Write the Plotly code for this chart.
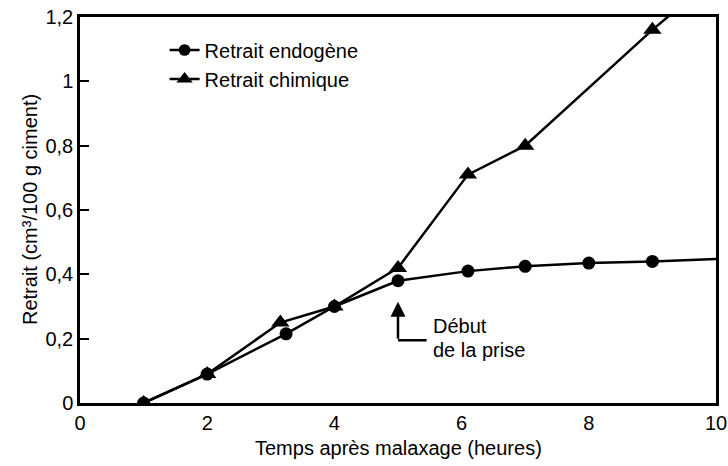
import plotly.graph_objects as go

# Data
endo_x = [1, 2, 3.24, 4, 5, 6.1, 7, 8, 9, 10.3]
endo_y = [0.0, 0.09, 0.215, 0.30, 0.38, 0.41, 0.425, 0.435, 0.44, 0.45]
endo_marker_sizes = [13, 13, 13, 13, 13, 13, 13, 13, 13, 0]

chim_x = [1, 2, 3.15, 4, 5, 6.1, 7, 9, 9.6]
chim_y = [0.0, 0.09, 0.25, 0.30, 0.42, 0.71, 0.80, 1.16, 1.26]
chim_marker_sizes = [16, 16, 16, 16, 16, 16, 16, 16, 0]

x_ticks = [0, 2, 4, 6, 8, 10]
y_ticks = [0, 0.2, 0.4, 0.6, 0.8, 1.0, 1.2]

FONT = "Liberation Sans, Arial, sans-serif"
FS = 20

fig = go.Figure()
fig.add_trace(go.Scatter(
    x=endo_x, y=endo_y, mode="lines+markers", name="Retrait endogène",
    line=dict(color="black", width=2.5),
    marker=dict(symbol="circle", size=endo_marker_sizes, color="black",
                opacity=1, line=dict(width=0)),
))
fig.add_trace(go.Scatter(
    x=chim_x, y=chim_y, mode="lines+markers", name="Retrait chimique",
    line=dict(color="black", width=2.5),
    marker=dict(symbol="triangle-up", size=chim_marker_sizes, color="black",
                opacity=1, line=dict(width=0)),
))

# "Début de la prise" marker: L-shaped arrow
fig.add_shape(type="line", x0=5.0, y0=0.195, x1=5.45, y1=0.195,
              line=dict(color="black", width=2.5), xref="x", yref="y")
fig.add_annotation(x=5.0, y=0.315, ax=5.0, ay=0.195, xref="x", yref="y",
                   axref="x", ayref="y", showarrow=True, arrowhead=2,
                   arrowsize=1.2, arrowwidth=2.5, arrowcolor="black", text="")
fig.add_annotation(x=5.52, y=0.24, xref="x", yref="y", text="Début",
                   showarrow=False, xanchor="left",
                   font=dict(family=FONT, size=FS, color="black"))
fig.add_annotation(x=5.52, y=0.165, xref="x", yref="y", text="de la prise",
                   showarrow=False, xanchor="left",
                   font=dict(family=FONT, size=FS, color="black"))

# Axis titles
fig.add_annotation(x=0, y=0.5, xref="paper", yref="paper", xshift=-50,
                   text="Retrait (cm³/100 g ciment)", textangle=-90,
                   showarrow=False, xanchor="center", yanchor="middle",
                   font=dict(family=FONT, size=FS, color="black"))
fig.add_annotation(x=0.5, y=0, xref="paper", yref="paper", yshift=-45,
                   text="Temps après malaxage (heures)",
                   showarrow=False, xanchor="center", yanchor="middle",
                   font=dict(family=FONT, size=FS, color="black"))

fig.update_layout(
    width=728, height=466,
    margin=dict(l=80, r=12, t=17, b=63),
    paper_bgcolor="white", plot_bgcolor="white",
    separators=", ",
    font=dict(family=FONT, size=FS, color="black"),
    showlegend=True,
    legend=dict(x=0.133, y=0.965, xanchor="left", yanchor="top",
                bgcolor="rgba(0,0,0,0)", font=dict(family=FONT, size=FS),
                itemwidth=30, tracegroupgap=4),
)
fig.update_xaxes(
    range=[0, 10], tickvals=x_ticks, showgrid=False, zeroline=False,
    showline=True, linecolor="black", linewidth=2.5, mirror=True,
    ticks="", tickfont=dict(family=FONT, size=FS), automargin=False,
)
fig.update_yaxes(
    range=[0, 1.2], tickvals=y_ticks, showgrid=False, zeroline=False,
    showline=True, linecolor="black", linewidth=2.5, mirror=True,
    ticks="inside", ticklen=9, tickwidth=2, tickcolor="black",
    tickfont=dict(family=FONT, size=FS), automargin=False,
)

fig.write_html("out.html", config={"displayModeBar": False},
               post_script="document.body.style.margin='0';")
